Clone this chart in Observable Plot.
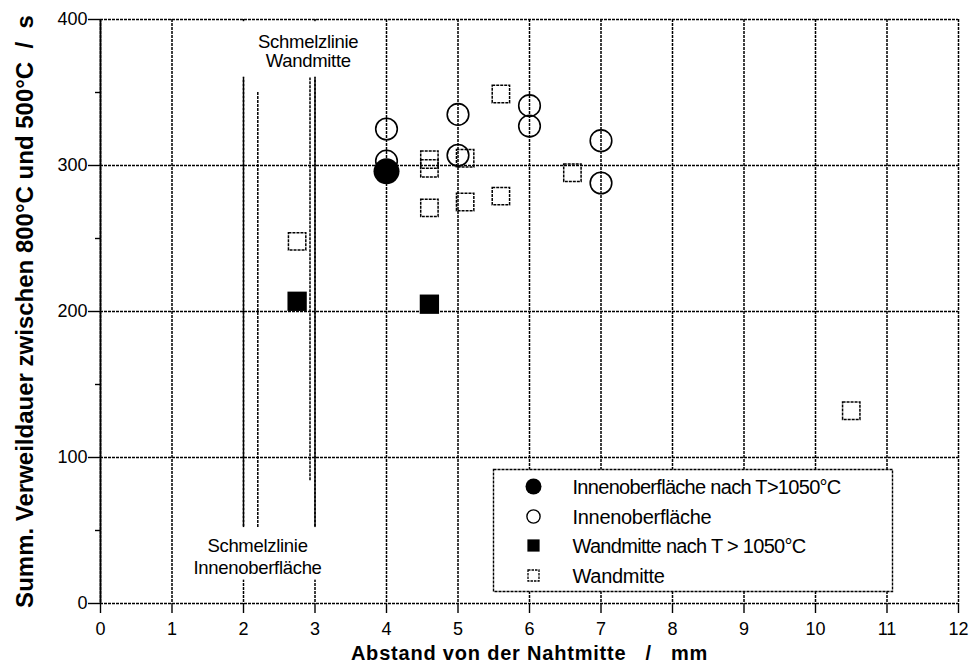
<!DOCTYPE html>
<html><head><meta charset="utf-8">
<script src="https://cdn.jsdelivr.net/npm/d3@7"></script>
<script src="https://cdn.jsdelivr.net/npm/@observablehq/plot@0.6"></script>
<style>
body{margin:0;background:#fff;}
svg text{white-space:pre;}
</style></head><body><div id="chart"></div>
<script>
// ---- tick values ----
const xTicks = [0,1,2,3,4,5,6,7,8,9,10,11,12];
const yTicks = [0,100,200,300,400];
const yMinorTicks = [50,150,250,350];

// ---- series (x: Abstand / mm, y: Verweildauer / s) ----
const innenNachX = [4];
const innenNachY = [296];
const innenX = [4,4,5,5,6,6,7,7];
const innenY = [325,303,335,307,341,327,317,288];
const wandNachX = [2.75,4.6];
const wandNachY = [207,205];
const wandX = [2.75,4.6,4.6,4.6,5.1,5.1,5.6,5.6,6.6,10.5];
const wandY = [248,304,298,271,305,275,349,279,295,132];

const seriesNames = ["Innenoberfläche nach T>1050°C","Innenoberfläche","Wandmitte nach T > 1050°C","Wandmitte"];

// ---- fusion-line annotations (data units) ----
const fusionX = [2.0,2.2,2.93,3.0];
const fusionYStart = [52,52,84,52];
const fusionYEnd = [360,350,360,360];
const annotationTexts = ["Schmelzlinie","Wandmitte","Schmelzlinie","Innenoberfläche"];
const annotationX = [2.905,2.905,2.196,2.196];
const annotationY = [384.3,371.3,39.3,24];
const maskX1 = [1.9,1.5], maskX2 = [3.5,3.3], maskY1 = [360.5,16], maskY2 = [398.5,52];

const xLabel = "Abstand von der Nahtmitte   /   mm";
const yLabel = "Summ. Verweildauer zwischen 800°C und 500°C  /  s";

const rows = (xs, ys) => xs.map((x, i) => ({x, y: ys[i]}));
const fusion = fusionX.map((x, i) => ({x, y1: fusionYStart[i], y2: fusionYEnd[i]}));
const masks = maskX1.map((x1, i) => ({x1, x2: maskX2[i], y1: maskY1[i], y2: maskY2[i]}));
const annotations = annotationTexts.map((t, i) => ({t, x: annotationX[i], y: annotationY[i]}));

const grid = {stroke: "#000", strokeOpacity: 1, strokeWidth: 1.5, strokeDasharray: "3,1"};
const FONT = '"Liberation Sans", Arial, sans-serif';

// legend layout (pixels relative to plot frame top-left)
const legMarkerDx = 433, legTextDx = 472, legRowDy = [467, 497, 526, 556];
const legendStyles = [
  {symbol: "circle", r: 8, fill: "black", stroke: "none"},
  {symbol: "circle", r: 6.6, fill: "none", stroke: "black", strokeWidth: 1.4},
  {symbol: "square", r: 6.9, fill: "black", stroke: "none"},
  {symbol: "square", r: 6.2, fill: "none", stroke: "black", strokeWidth: 1.3, strokeDasharray: "2.5,1"}
];

const legendMarks = seriesNames.flatMap((name, i) => [
  Plot.dot([name], {frameAnchor: "top-left", dx: legMarkerDx, dy: legRowDy[i], ...legendStyles[i]}),
  Plot.text([name], {frameAnchor: "top-left", dx: legTextDx, dy: legRowDy[i] + 1, textAnchor: "start", lineAnchor: "middle", fontSize: 20, fill: "black"})
]);

const legendBox = (index, scales, values, dims) =>
  d3.create("svg:rect")
    .attr("x", 493.5).attr("y", 469.5).attr("width", 399).attr("height", 122)
    .attr("fill", "white").attr("stroke", "black").attr("stroke-width", 1.4)
    .attr("stroke-dasharray", "3,1").node();

const chart = Plot.plot({
  width: 972,
  height: 668,
  marginLeft: 100,
  marginRight: 14,
  marginTop: 19,
  marginBottom: 65,
  style: {fontFamily: FONT, fontSize: "18px", color: "black", background: "white"},
  x: {domain: [0, 12]},
  y: {domain: [0, 400]},
  marks: [
    Plot.gridX(xTicks, grid),
    Plot.gridY(yTicks, grid),
    Plot.rect(masks, {x1: "x1", x2: "x2", y1: "y1", y2: "y2", fill: "white"}),
    Plot.ruleX(fusion, {x: "x", y1: "y1", y2: "y2", ...grid}),
    Plot.ruleX([0], {stroke: "black", strokeWidth: 1.8}),
    Plot.axisX(xTicks, {anchor: "bottom", tickSize: 10, tickPadding: 9, fontSize: 18, label: null, strokeWidth: 1.4}),
    Plot.axisY(yTicks, {anchor: "left", tickSize: 12, tickPadding: 1, fontSize: 18, label: null, strokeWidth: 1.4}),
    Plot.axisY(yMinorTicks, {anchor: "left", tickSize: 5, tickFormat: () => "", label: null, strokeWidth: 1.4}),
    Plot.dot(rows(wandX, wandY), {x: "x", y: "y", symbol: "square", r: 9.8, fill: "none", stroke: "black", strokeWidth: 1.5, strokeDasharray: "3,1"}),
    Plot.dot(rows(innenX, innenY), {x: "x", y: "y", symbol: "circle", r: 10.8, fill: "none", stroke: "black", strokeWidth: 1.6}),
    Plot.dot(rows(wandNachX, wandNachY), {x: "x", y: "y", symbol: "square", r: 10.9, fill: "black", stroke: "none"}),
    Plot.dot(rows(innenNachX, innenNachY), {x: "x", y: "y", symbol: "circle", r: 13, fill: "black", stroke: "none"}),
    Plot.text(annotations, {x: "x", y: "y", text: "t", fontSize: 18.5, fill: "black"}),
    legendBox,
    ...legendMarks,
    Plot.text([xLabel], {frameAnchor: "bottom", lineAnchor: "middle", textAnchor: "middle", dy: 50, fontSize: 20, fontWeight: "bold", fill: "black"}),
    Plot.text([yLabel], {frameAnchor: "left", lineAnchor: "middle", textAnchor: "middle", rotate: -90, dx: -75, fontSize: 24, fontWeight: "bold", fill: "black"})
  ]
});

document.getElementById("chart").appendChild(chart);
const sel = d3.select(chart).selectAll("text");
sel.filter(function () { return this.textContent === xLabel; }).attr("letter-spacing", "0.8");
sel.filter(function () { return seriesNames.includes(this.textContent); }).attr("letter-spacing", "-0.7");
sel.filter(function () { return annotationTexts.includes(this.textContent); }).attr("letter-spacing", "-0.3");
</script>
</body></html>
